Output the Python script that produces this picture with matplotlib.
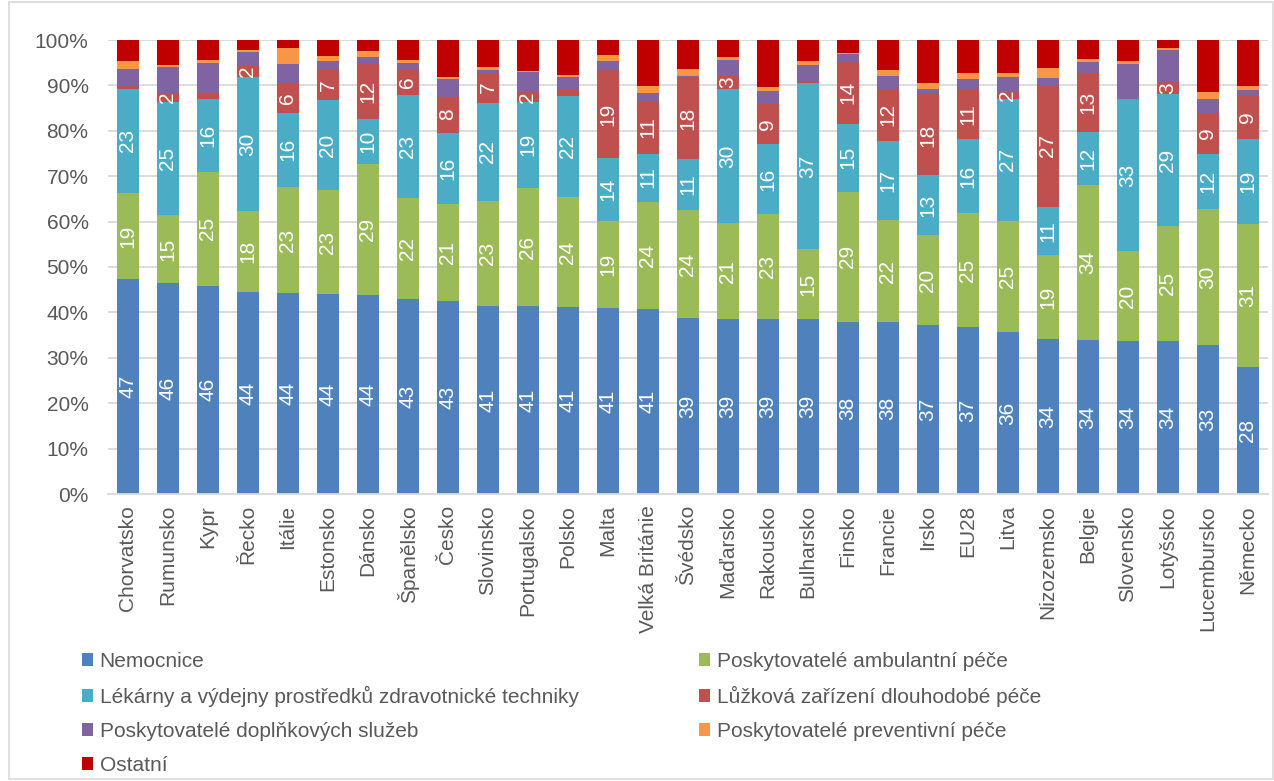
import matplotlib
matplotlib.use("Agg")
import matplotlib.pyplot as plt
import numpy as np

plt.rcParams['font.family'] = ['Liberation Sans', 'DejaVu Sans']

countries = ["Chorvatsko", "Rumunsko", "Kypr", "Řecko", "Itálie", "Estonsko", "Dánsko",
             "Španělsko", "Česko", "Slovinsko", "Portugalsko", "Polsko", "Malta",
             "Velká Británie", "Švédsko", "Maďarsko", "Rakousko", "Bulharsko", "Finsko",
             "Francie", "Irsko", "EU28", "Litva", "Nizozemsko", "Belgie", "Slovensko",
             "Lotyšsko", "Lucembursko", "Německo"]

nemocnice = [47.3, 46.4, 45.9, 44.4, 44.2, 44.1, 43.9, 43.0, 42.6, 41.4, 41.3, 41.1, 40.9,
             40.7, 38.7, 38.6, 38.6, 38.6, 37.9, 37.9, 37.2, 36.7, 35.6, 34.1, 33.9, 33.7,
             33.6, 32.8, 28.0]
ambulantni = [19.1, 15.1, 25.0, 17.9, 23.4, 22.8, 28.7, 22.1, 21.3, 23.1, 26.1, 24.3, 19.3,
              23.7, 23.9, 21.0, 23.0, 15.3, 28.7, 22.4, 19.8, 25.1, 24.6, 18.6, 34.2, 19.8,
              25.4, 30.0, 31.4]
lekarny = [22.8, 24.9, 16.0, 29.6, 16.4, 19.9, 10.0, 22.7, 15.7, 21.7, 19.0, 22.3, 13.8,
           10.6, 11.2, 29.6, 15.6, 36.6, 15.0, 17.4, 13.2, 16.4, 26.8, 10.6, 11.7, 33.4,
           29.1, 12.1, 18.9]
luzkova = [0.7, 1.9, 1.4, 2.4, 6.5, 6.7, 12.3, 5.6, 7.9, 6.6, 2.1, 1.2, 19.3,
           11.4, 18.0, 2.9, 8.6, 0.5, 13.6, 11.6, 17.8, 11.0, 1.6, 26.8, 12.9, 0.0,
           2.7, 9.0, 9.4]
doplnkove = [3.7, 5.8, 6.7, 3.1, 4.3, 1.9, 1.3, 1.6, 3.9, 0.6, 4.5, 3.0, 2.1,
             1.9, 0.2, 3.5, 3.0, 3.6, 1.8, 2.8, 1.2, 2.1, 3.3, 1.6, 2.5, 7.8,
             7.0, 3.1, 1.3]
preventivni = [1.8, 0.4, 0.6, 0.4, 3.4, 1.1, 1.4, 0.7, 0.5, 0.7, 0.1, 0.4, 1.2,
               1.6, 1.6, 0.6, 0.8, 0.8, 0.2, 1.3, 1.4, 1.4, 0.8, 2.2, 0.7, 0.7,
               0.5, 1.5, 0.9]
ostatni = [4.6, 5.5, 4.4, 2.2, 1.8, 3.5, 2.4, 4.3, 8.1, 5.9, 6.9, 7.7, 3.4,
           10.1, 6.4, 3.8, 10.4, 4.6, 2.8, 6.6, 9.4, 7.3, 7.3, 6.1, 4.1, 4.6,
           1.7, 11.5, 10.1]

series_names = ["Nemocnice", "Poskytovatelé ambulantní péče",
                "Lékárny a výdejny prostředků zdravotnické techniky",
                "Lůžková zařízení dlouhodobé péče", "Poskytovatelé doplňkových služeb",
                "Poskytovatelé preventivní péče", "Ostatní"]
series = [nemocnice, ambulantni, lekarny, luzkova, doplnkove, preventivni, ostatni]
colors = ["#4F81BD", "#9BBB59", "#4BACC6", "#C0504D", "#8064A2", "#F79646", "#C00000"]
labeled = [True, True, True, True, False, False, False]

W, H = 1274, 781
fig = plt.figure(figsize=(W / 100, H / 100), dpi=100)
ax = fig.add_axes([108 / W, 1 - 494 / H, 1160 / W, 454 / H])

FS = 15
TXT = "#595959"
x = np.arange(len(countries))
bottom = np.zeros(len(countries))
containers = []
for vals, col, name, lab in zip(series, colors, series_names, labeled):
    v = np.array(vals, dtype=float)
    bc = ax.bar(x, v, 0.57, bottom=bottom, color=col, label=name, linewidth=0)
    containers.append(bc)
    if lab:
        for xi, b, vi in zip(x, bottom, v):
            if round(vi) >= 2:
                ax.text(xi, b + vi / 2, f"{vi:.0f}", rotation=90, ha="center",
                        va="center", color="white", fontsize=FS)
    bottom += v

ax.set_xlim(-0.5, len(countries) - 0.5)
ax.set_ylim(0, 100)
ax.set_yticks(np.arange(0, 101, 10))
ax.set_yticklabels([f"{t}%" for t in range(0, 101, 10)])
ax.set_xticks(x)
ax.set_xticklabels(countries, rotation=90)
ax.tick_params(axis="both", length=0, labelsize=FS, colors=TXT)
ax.tick_params(axis="y", pad=14)
ax.tick_params(axis="x", pad=8)
ax.grid(axis="y", color="#D9D9D9", linewidth=1.3)
ax.set_axisbelow(True)
for s in ["top", "right", "left"]:
    ax.spines[s].set_visible(False)
ax.spines["bottom"].set_color("#D9D9D9")
ax.spines["bottom"].set_linewidth(1.3)

order1 = [0, 2, 4, 6]
order2 = [1, 3, 5]
common = dict(frameon=False, fontsize=FS, handlelength=0.55, handleheight=0.55,
              handletextpad=0.3, labelspacing=0.72, borderpad=0, borderaxespad=0,
              labelcolor=TXT, loc="upper left")
leg1 = fig.legend([containers[i] for i in order1], [series_names[i] for i in order1],
                  bbox_to_anchor=(82 / W, 1 - 652 / H), **common)
leg2 = fig.legend([containers[i] for i in order2], [series_names[i] for i in order2],
                  bbox_to_anchor=(699 / W, 1 - 652 / H), **common)

fig.patches.append(plt.Rectangle((9 / W, 0.002), 1 - 10 / W, 0.996, transform=fig.transFigure,
                                 fill=False, edgecolor="#D9D9D9", linewidth=1.2))

fig.savefig("out.png", dpi=100)
